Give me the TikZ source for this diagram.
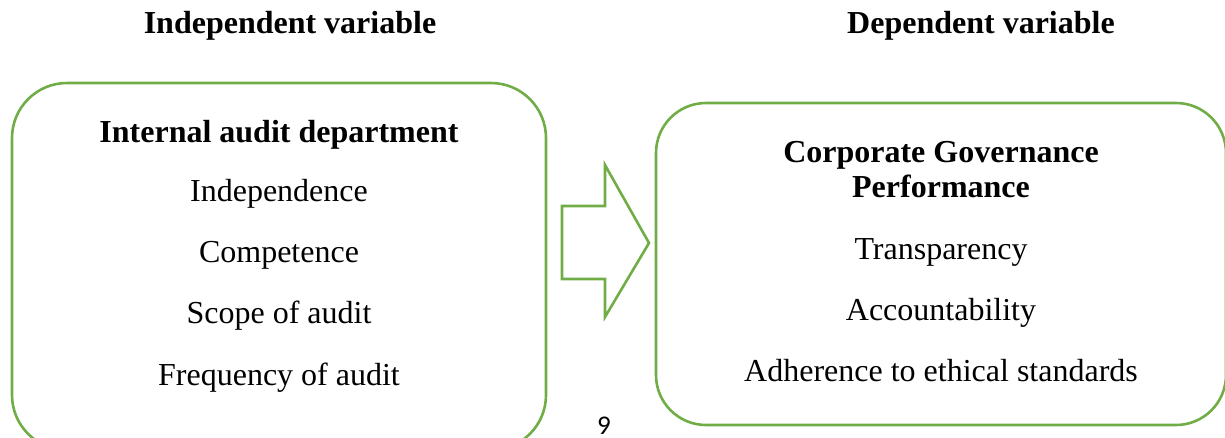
\documentclass[tikz,border=0pt]{standalone}
\usepackage{fontspec}
\setmainfont{Liberation Serif}
\newfontfamily\pagenumfont{Carlito}
\definecolor{boxgreen}{HTML}{70AD47}
\begin{document}
\begin{tikzpicture}[x=1pt,y=-1pt,
  frame/.style={draw=boxgreen,line width=2.6pt,rounded corners=55pt},
  head/.style={font=\fontsize{32}{38}\selectfont\bfseries,anchor=base,inner sep=0pt},
  item/.style={font=\fontsize{32}{38}\selectfont,anchor=base,inner sep=0pt}]
\useasboundingbox (0,0) rectangle (1225,437);
\begin{scope}
\clip (0,0) rectangle (1225,437);
\draw[frame] (12,83) rectangle (546,450);
\draw[frame,rounded corners=50pt] (656,103) rectangle (1226,425);
\draw[draw=boxgreen,line width=2.6pt,line join=miter]
  (562,206) -- (605,206) -- (605,165) -- (649,243) -- (605,317) -- (605,279) -- (562,279) -- cycle;
\end{scope}
\node[head] (iv) at (290,33) {Independent variable};
\node[head] (dv) at (981,33) {Dependent variable};
\node[head] (ia) at (279,142) {Internal audit department};
\node[item] (i1) at (279,201) {Independence};
\node[item] (i2) at (279,262) {Competence};
\node[item] (i3) at (279,323) {Scope of audit};
\node[item] (i4) at (279,385) {Frequency of audit};
\node[head] (cg1) at (941,162) {Corporate Governance};
\node[head] (cg2) at (941,197) {Performance};
\node[item] (d1) at (941,259) {Transparency};
\node[item] (d2) at (941,320) {Accountability};
\node[item] (d3) at (941,381) {Adherence to ethical standards};
\node[font=\pagenumfont\fontsize{27}{30}\selectfont,anchor=base,inner sep=0pt] (pg) at (604,434.5) {9};
\end{tikzpicture}
\end{document}
